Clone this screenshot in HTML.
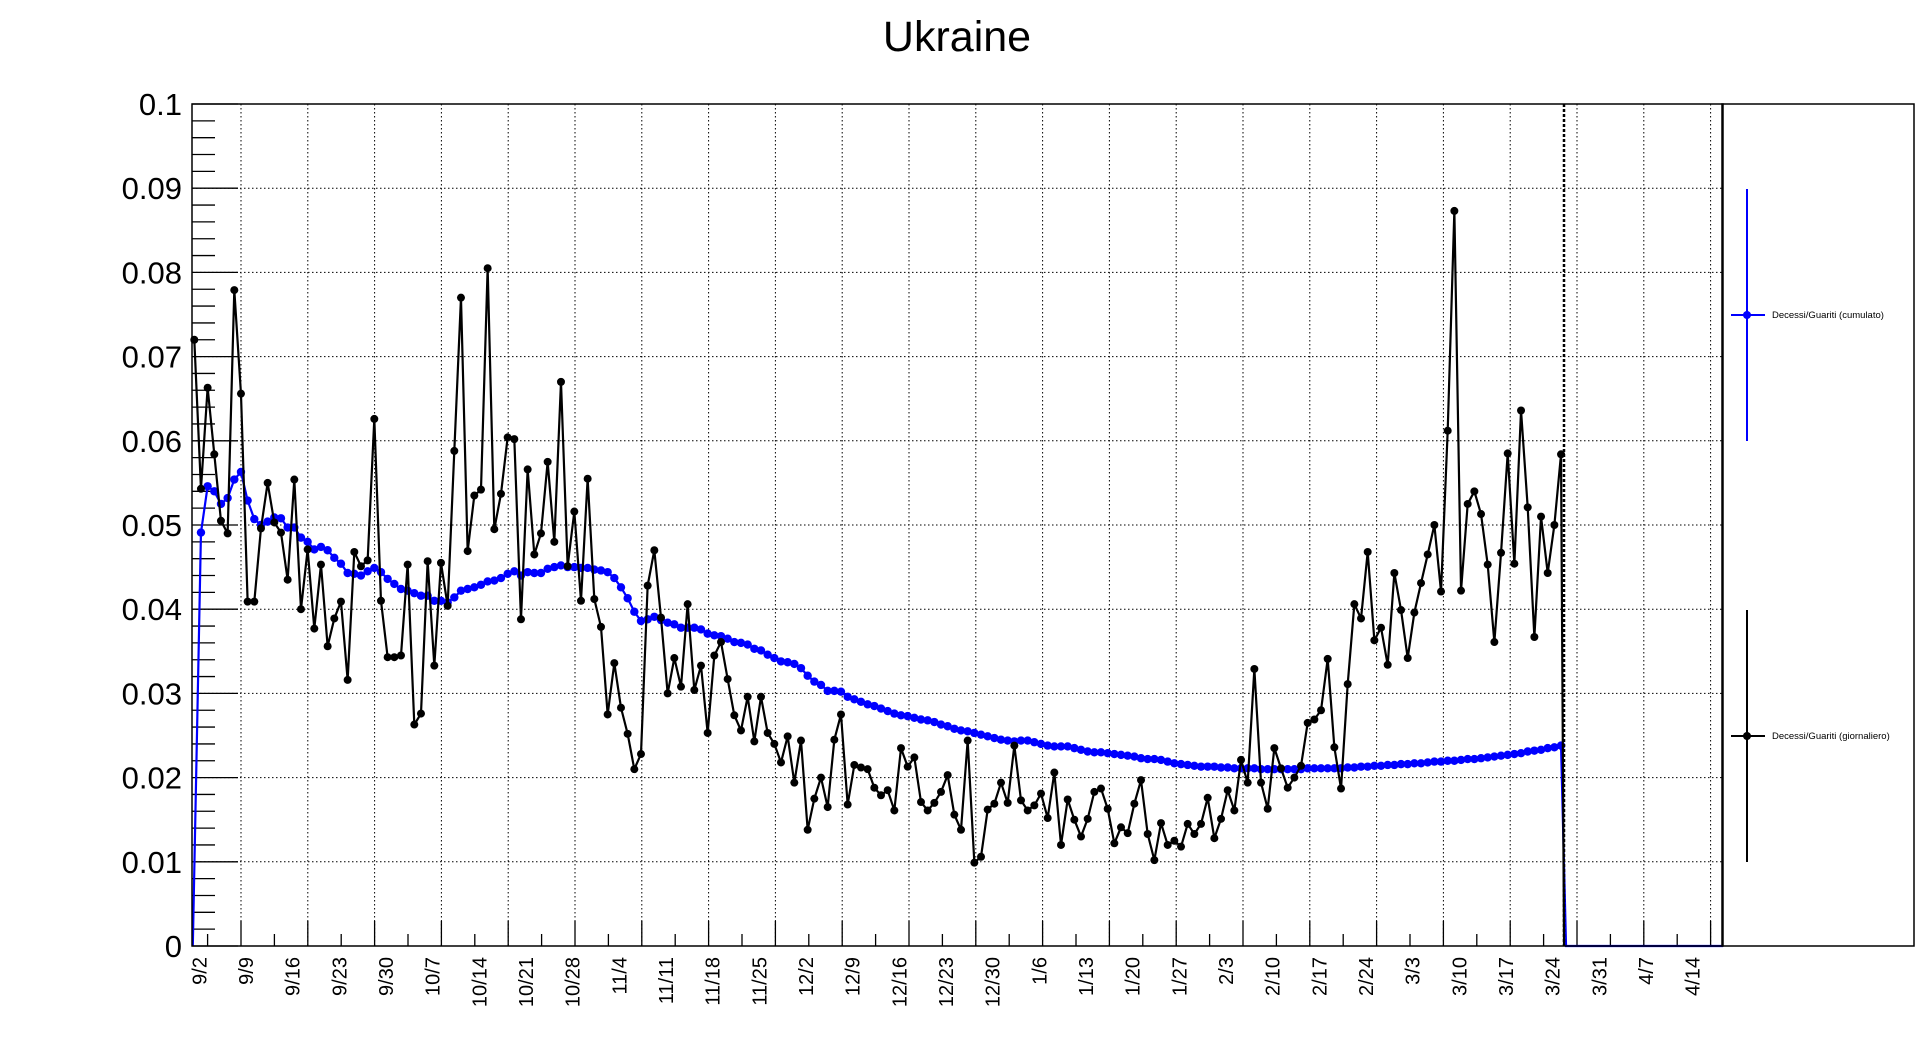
<!DOCTYPE html>
<html><head><meta charset="utf-8"><title>Ukraine</title>
<style>
html,body{margin:0;padding:0;background:#fff;}
svg{display:block;font-family:"Liberation Sans",Arial,sans-serif;}
</style></head>
<body>
<svg id="chart" width="1916" height="1052" viewBox="0 0 1916 1052" xmlns="http://www.w3.org/2000/svg">
<rect x="0" y="0" width="1916" height="1052" fill="#fff"/>
<text x="957" y="51" font-size="43" text-anchor="middle" fill="#000">Ukraine</text>
<g id="grid"></g>
<g id="axes"></g>
<g id="series"></g>
<rect x="192" y="104" width="1531" height="842" fill="none" stroke="#000" stroke-width="1.5"/>
<g id="legend">
<rect x="1722" y="104" width="192" height="842" fill="none" stroke="#000" stroke-width="1.5"/>
<g>
<line x1="1747" y1="189" x2="1747" y2="441" stroke="#0000ff" stroke-width="2"/>
<line x1="1731" y1="315" x2="1765" y2="315" stroke="#0000ff" stroke-width="2"/>
<circle cx="1747" cy="315" r="4" fill="#0000ff"/>
<text x="1772" y="318" font-size="9.5" fill="#000">Decessi/Guariti (cumulato)</text>
</g>
<g>
<line x1="1747" y1="610" x2="1747" y2="862" stroke="#000" stroke-width="2"/>
<line x1="1731" y1="736" x2="1765" y2="736" stroke="#000" stroke-width="2"/>
<circle cx="1747" cy="736" r="4" fill="#000"/>
<text x="1772" y="739" font-size="9.5" fill="#000">Decessi/Guariti (giornaliero)</text>
</g>
</g>
</svg>
<script>
const dateLabels = ["9/2","9/9","9/16","9/23","9/30","10/7","10/14","10/21","10/28","11/4","11/11","11/18","11/25","12/2","12/9","12/16","12/23","12/30","1/6","1/13","1/20","1/27","2/3","2/10","2/17","2/24","3/3","3/10","3/17","3/24","3/31","4/7","4/14"];
const yTickValues = [0,0.01,0.02,0.03,0.04,0.05,0.06,0.07,0.08,0.09,0.1];
const yTickLabels = ["0","0.01","0.02","0.03","0.04","0.05","0.06","0.07","0.08","0.09","0.1"];
const dailyValues = [
0.0720,0.0543,0.0663,0.0584,0.0505,0.0490,0.0779,0.0656,0.0409,0.0409,
0.0496,0.0550,0.0503,0.0491,0.0435,0.0554,0.0400,0.0471,0.0377,0.0453,
0.0356,0.0389,0.0409,0.0316,0.0468,0.0451,0.0458,0.0626,0.0410,0.0343,
0.0343,0.0345,0.0453,0.0263,0.0276,0.0457,0.0333,0.0455,0.0404,0.0588,
0.0770,0.0469,0.0535,0.0542,0.0805,0.0495,0.0537,0.0604,0.0602,0.0388,
0.0566,0.0465,0.0490,0.0575,0.0480,0.0670,0.0451,0.0516,0.0410,0.0555,
0.0412,0.0379,0.0275,0.0336,0.0283,0.0252,0.0210,0.0228,0.0428,0.0470,
0.0390,0.0300,0.0342,0.0308,0.0406,0.0304,0.0333,0.0253,0.0345,0.0361,
0.0317,0.0274,0.0256,0.0296,0.0243,0.0296,0.0253,0.0240,0.0218,0.0249,
0.0194,0.0244,0.0138,0.0175,0.0200,0.0165,0.0245,0.0275,0.0168,0.0215,
0.0212,0.0210,0.0188,0.0179,0.0185,0.0161,0.0235,0.0213,0.0224,0.0171,
0.0161,0.0170,0.0183,0.0203,0.0156,0.0138,0.0244,0.0099,0.0106,0.0162,
0.0169,0.0194,0.0170,0.0238,0.0173,0.0161,0.0167,0.0181,0.0152,0.0206,
0.0120,0.0174,0.0150,0.0130,0.0151,0.0183,0.0187,0.0163,0.0122,0.0141,
0.0134,0.0169,0.0197,0.0133,0.0102,0.0146,0.0120,0.0125,0.0118,0.0145,
0.0133,0.0145,0.0176,0.0128,0.0151,0.0185,0.0161,0.0221,0.0194,0.0329,
0.0194,0.0163,0.0235,0.0211,0.0188,0.0200,0.0214,0.0265,0.0269,0.0280,
0.0341,0.0236,0.0187,0.0311,0.0406,0.0389,0.0468,0.0363,0.0378,0.0334,
0.0443,0.0399,0.0342,0.0396,0.0431,0.0465,0.0500,0.0421,0.0612,0.0873,
0.0422,0.0525,0.0540,0.0513,0.0453,0.0361,0.0467,0.0585,0.0454,0.0636,
0.0521,0.0367,0.0510,0.0443,0.0500,0.0584];
const cumulValues = [
0.0491,0.0546,0.0540,0.0525,0.0532,0.0554,0.0563,0.0529,0.0507,0.0500,
0.0504,0.0509,0.0508,0.0497,0.0497,0.0485,0.0480,0.0471,0.0474,0.0470,
0.0461,0.0454,0.0443,0.0442,0.0440,0.0445,0.0449,0.0444,0.0436,0.0430,
0.0424,0.0422,0.0419,0.0416,0.0416,0.0410,0.0410,0.0408,0.0414,0.0422,
0.0424,0.0426,0.0429,0.0433,0.0434,0.0437,0.0442,0.0445,0.0440,0.0444,
0.0443,
0.0443,0.0448,0.0450,0.0452,0.0450,0.0450,0.0449,0.0449,0.0447,0.0446,
0.0444,0.0437,0.0426,0.0413,0.0397,0.0386,0.0388,0.0391,0.0387,0.0384,
0.0382,0.0378,0.0378,0.0378,0.0376,0.0371,0.0369,0.0368,0.0365,0.0361,
0.0360,0.0358,0.0353,0.0351,0.0346,0.0342,0.0338,0.0337,0.0335,0.0330,
0.0321,0.0314,0.0310,0.0303,0.0303,0.0302,0.0296,0.0293,0.0290,0.0287,
0.0285,0.0282,0.0279,0.0276,0.0274,0.0273,0.0271,0.0269,0.0268,0.0266,
0.0263,0.0261,0.0258,0.0256,0.0255,0.0253,0.0251,0.0249,0.0247,0.0245,
0.0244,0.0243,0.0244,0.0244,0.0242,0.0240,0.0238,0.0237,0.0237,0.0237,
0.0235,0.0233,0.0231,0.0230,0.0230,0.0229,0.0228,0.0227,0.0226,0.0225,
0.0223,0.0222,0.0222,0.0221,0.0219,0.0217,0.0216,0.0215,0.0214,0.0213,
0.0213,0.0213,
0.0212,0.0212,0.0211,0.0211,0.0211,0.0211,0.0210,
0.0210,0.0210,0.0210,0.0210,0.0210,0.0210,0.0211,0.0211,0.0211,0.0211,
0.0211,0.0211,0.0212,0.0212,0.0213,0.0213,0.0214,0.0214,0.0215,0.0215,
0.0216,0.0216,0.0217,0.0217,0.0218,0.0219,0.0219,0.0220,0.0220,0.0221,
0.0222,0.0222,0.0223,0.0224,0.0225,0.0226,0.0227,0.0228,0.0229,0.0231,
0.0232,0.0233,0.0235,0.0236,0.0238];
const cumulStartIndex = 1;

const NS = "http://www.w3.org/2000/svg";
const PL = 192, PR = 1723, PT = 104, PB = 946;
const DAY0X = 194.3, DAYW = 6.667;
const YMAX = 0.1;
function xOfIndex(i){ return DAY0X + i*DAYW; }
function yOf(v){ return PB - (v/YMAX)*(PB-PT); }
function mk(tag, attrs, parent){
  const e = document.createElementNS(NS, tag);
  for (const k in attrs) e.setAttribute(k, attrs[k]);
  parent.appendChild(e);
  return e;
}
const grid = document.getElementById('grid');
const axes = document.getElementById('axes');
const series = document.getElementById('series');

yTickValues.forEach((v,k)=>{
  const y = yOf(v);
  if (v>0 && v<YMAX){
    const g = mk('line',{x1:PL,y1:y,x2:PR,y2:y,stroke:'#000','stroke-width':1,'stroke-dasharray':'1.5,2.5'},grid);
    
    
  }
  const t = mk('line',{x1:PL,y1:y,x2:PL+46,y2:y,stroke:'#000','stroke-width':1.3},axes);
  
  
  const lb = mk('text',{x:182,y:y+11,'font-size':31,'text-anchor':'end',fill:'#000'},axes);
  lb.textContent = yTickLabels[k];
  
  
  if (k < yTickValues.length-1){
    for (let m=1;m<5;m++){
      const ym = yOf(v + m*(yTickValues[k+1]-v)/5);
      const mt = mk('line',{x1:PL,y1:ym,x2:PL+23,y2:ym,stroke:'#000','stroke-width':1.3},axes);
      
      
    }
  }
});
for (let x=241; x<PR; x+=66.8){
  const g = mk('line',{x1:x,y1:PT,x2:x,y2:PB,stroke:'#000','stroke-width':1,'stroke-dasharray':'1.5,2.5'},grid);
  
  
  const t = mk('line',{x1:x,y1:PB,x2:x,y2:PB-25,stroke:'#000','stroke-width':1.3},axes);
  
  
}
for (let x=241-33.4; x<PR; x+=66.8){
  const t = mk('line',{x1:x,y1:PB,x2:x,y2:PB-12,stroke:'#000','stroke-width':1.3},axes);
  
  
}
dateLabels.forEach((d,k)=>{
  const x = xOfIndex(k*7) + 12;
  const lb = mk('text',{x:0,y:0,'font-size':20,'text-anchor':'end',fill:'#000',transform:'translate('+x+',957) rotate(-90)'},axes);
  lb.textContent = d;
  
  
});

let bp = xOfIndex(0)-1.5+','+PB+' ';
cumulValues.forEach((v,i)=>{ bp += xOfIndex(i+cumulStartIndex)+','+yOf(v)+' '; });
const lastB = xOfIndex(cumulValues.length-1+cumulStartIndex);
bp += (lastB+5)+','+PB+' '+PR+','+PB;
const bl = mk('polyline',{points:bp,fill:'none',stroke:'#0000ff','stroke-width':2.2},series);


cumulValues.forEach((v,i)=>{
  const c = mk('circle',{cx:xOfIndex(i+cumulStartIndex),cy:yOf(v),r:4.2,fill:'#0000ff'},series);
  
  
});

let kp = '';
dailyValues.forEach((v,i)=>{ kp += xOfIndex(i)+','+yOf(v)+' '; });
const lastK = xOfIndex(dailyValues.length-1);
kp += (lastK+3)+','+PB;
const kl = mk('polyline',{points:kp,fill:'none',stroke:'#000','stroke-width':2.2},series);


dailyValues.forEach((v,i)=>{
  const c = mk('circle',{cx:xOfIndex(i),cy:yOf(v),r:4,fill:'#000'},series);
  
  
});
const vl = mk('line',{x1:1564,y1:PT,x2:1564,y2:PB,stroke:'#000','stroke-width':2.5,'stroke-dasharray':'3,2'},series);


</script>
</body></html>
